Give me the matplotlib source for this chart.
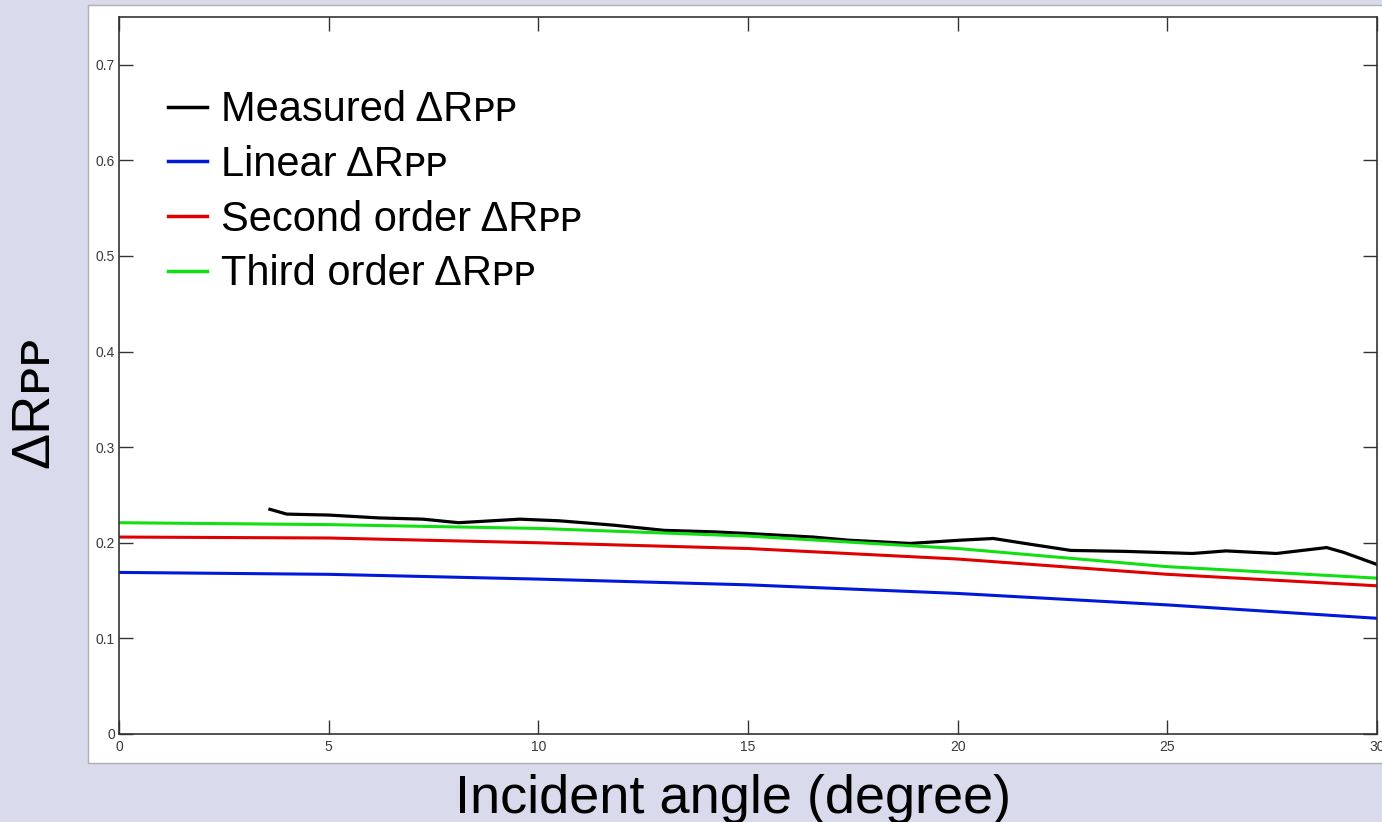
import matplotlib.pyplot as plt
import matplotlib.patches as mpatches
import numpy as np

plt.rcParams['font.family'] = ['Liberation Sans', 'DejaVu Sans']

meas_x = [3.6, 4.0, 5.0, 6.2, 7.25, 8.1, 9.56, 10.5, 11.8, 13.0, 14.2, 15.0, 16.55,
          17.4, 18.15, 18.86, 20.06, 20.85, 21.65, 22.7, 24.0, 25.6, 26.4, 27.6,
          28.8, 29.2, 30.0]
meas_y = [0.235, 0.230, 0.229, 0.226, 0.2247, 0.221, 0.2247, 0.223, 0.2184, 0.213,
          0.2114, 0.2097, 0.206, 0.2027, 0.201, 0.1993, 0.2027, 0.2045, 0.199, 0.192,
          0.191, 0.1888, 0.1915, 0.1888, 0.195, 0.190, 0.1773]

# approximations
angle = [0, 5, 10, 15, 20, 25, 30]
linear = [0.169, 0.167, 0.162, 0.156, 0.147, 0.135, 0.121]
second = [0.206, 0.205, 0.200, 0.194, 0.183, 0.167, 0.155]
third = [0.221, 0.219, 0.215, 0.207, 0.194, 0.175, 0.163]

sub = '\u1d18\u1d18'
labels = ['Measured \u0394R' + sub, 'Linear \u0394R' + sub,
          'Second order \u0394R' + sub, 'Third order \u0394R' + sub]

fig = plt.figure(figsize=(13.82, 8.22), dpi=100)
fig.patch.set_facecolor('#d9daec')
# white panel behind the axes
panel = mpatches.Rectangle((0.0637, 0.0718), 0.94, 0.922, transform=fig.transFigure,
                           facecolor='white', edgecolor='#b0b0b0', linewidth=1, zorder=-10)
fig.patches.append(panel)

ax = fig.add_axes([0.0861, 0.1071, 0.9103, 0.8722])
ax.plot(meas_x, meas_y, color='black', lw=2.3, label=labels[0])
ax.plot(angle, linear, color='#0018d8', lw=2.2, label=labels[1])
ax.plot(angle, second, color='#e00000', lw=2.2, label=labels[2])
ax.plot(angle, third, color='#10e010', lw=2.2, label=labels[3])

ax.set_xlim(0, 30)
ax.set_ylim(0, 0.75)
ax.set_xticks([0, 5, 10, 15, 20, 25, 30])
ax.set_yticks([0, 0.1, 0.2, 0.3, 0.4, 0.5, 0.6, 0.7])
ax.set_yticklabels(['0', '0.1', '0.2', '0.3', '0.4', '0.5', '0.6', '0.7'])
ax.tick_params(direction='in', length=10, width=1, top=True, right=True,
               labelsize=10, labelcolor='#3a3a3a', pad=3, color='#333333')
ax.tick_params(axis='x', pad=4)
for s in ax.spines.values():
    s.set_color('#333333')
    s.set_linewidth(1.2)

ax.set_xlabel('Incident angle (degree)', fontsize=39)
ax.xaxis.set_label_coords(0.488, -0.056)
ax.set_ylabel('\u0394R' + sub, fontsize=39)
ax.yaxis.set_label_coords(-0.047, 0.463)

leg = ax.legend(loc='upper left', bbox_to_anchor=(0.009, 0.95), frameon=False,
                fontsize=30, handlelength=0.93, handletextpad=0.35, labelspacing=0.35)
for line in leg.get_lines():
    line.set_linewidth(2.5)

fig.savefig('out.png', dpi=100, facecolor=fig.get_facecolor())
